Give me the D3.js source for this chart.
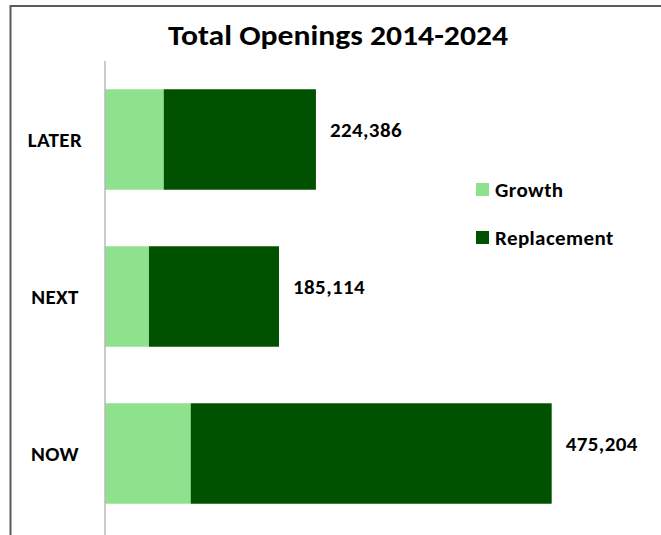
<!DOCTYPE html>
<html>
<head>
<meta charset="utf-8">
<script src="https://cdn.jsdelivr.net/npm/d3@7"></script>
<style>
  html, body { margin: 0; padding: 0; background: #ffffff; }
  svg { display: block; }
  text { font-family: Carlito, Calibri, Lato, "Open Sans", sans-serif; font-weight: 800; fill: #000; }
  .lbl { letter-spacing: 0.4px; }
</style>
</head>
<body>
<svg id="chart" width="661" height="535"></svg>
<script>
// Job openings 2014-2024 by time horizon, split into growth and replacement
const categories = ["LATER", "NEXT", "NOW"];
const growth = [62500, 46800, 91200];
const replacement = [161886, 138314, 384004];
const seriesNames = ["Growth", "Replacement"];
const seriesColors = ["#8fe28d", "#005100"];
const titleText = "Total Openings 2014-2024";

const W = 661, H = 535;
const svg = d3.select("#chart");

const rows = categories.map((c, i) => ({ cat: c, Growth: growth[i], Replacement: replacement[i] }));
const stacked = d3.stack().keys(seriesNames)(rows);

const x = d3.scaleLinear().domain([0, 500000]).range([105, 575]);
const y = d3.scaleBand().domain(categories).range([61, 532]).paddingInner(0.36).paddingOuter(0.18);
const color = d3.scaleOrdinal().domain(seriesNames).range(seriesColors);

// outer frame (left and top edges)
svg.append("path")
  .attr("d", `M10.5,${H} V6 H${W}`)
  .attr("fill", "none")
  .attr("stroke", "#5a5a5a")
  .attr("stroke-width", 2);

// title
svg.append("text")
  .attr("x", 338).attr("y", 45)
  .attr("text-anchor", "middle")
  .attr("font-size", 28)
  .attr("textLength", 340)
  .attr("lengthAdjust", "spacingAndGlyphs")
  .text(titleText);

// stacked bars
svg.append("g").selectAll("g")
  .data(stacked)
  .join("g")
  .attr("fill", d => color(d.key))
  .selectAll("rect")
  .data(d => d)
  .join("rect")
  .attr("x", d => x(d[0]))
  .attr("y", d => y(d.data.cat))
  .attr("width", d => x(d[1]) - x(d[0]))
  .attr("height", y.bandwidth());

// category axis
const axis = svg.append("g")
  .attr("transform", `translate(${x(0)},0)`)
  .call(d3.axisLeft(y).tickSize(0).tickPadding(22));
axis.select(".domain")
  .attr("d", `M0,61 V${H}`)
  .attr("stroke", "#b8b8b8")
  .attr("stroke-width", 1.5);
axis.selectAll(".tick text")
  .attr("class", "lbl")
  .attr("text-anchor", "middle")
  .attr("x", 55 - x(0))
  .attr("dy", null)
  .attr("y", 7.5)
  .attr("font-family", null)
  .attr("font-size", 21);

// total labels
const fmt = d3.format(",");
svg.append("g").selectAll("text")
  .data(rows)
  .join("text")
  .attr("class", "lbl")
  .attr("x", d => x(d.Growth + d.Replacement) + 14)
  .attr("y", d => y(d.cat) + y.bandwidth() / 2 - 3)
  .attr("font-size", 21)
  .text(d => fmt(d.Growth + d.Replacement));

// legend
const legend = svg.append("g").selectAll("g")
  .data(seriesNames)
  .join("g")
  .attr("transform", (d, i) => `translate(476,${183 + i * 48})`);
legend.append("rect")
  .attr("width", 13).attr("height", 13)
  .attr("fill", d => color(d));
legend.append("text")
  .attr("class", "lbl")
  .attr("x", 19).attr("y", 13.5)
  .attr("font-size", 21)
  .text(d => d);
</script>
</body>
</html>
